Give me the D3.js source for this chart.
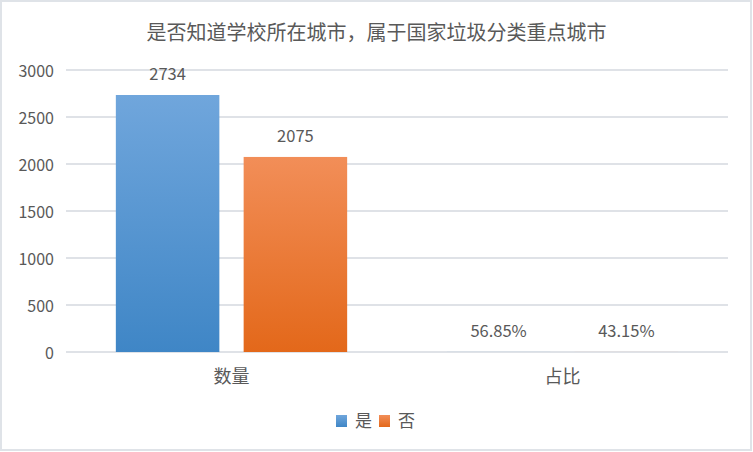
<!DOCTYPE html>
<html>
<head>
<meta charset="utf-8">
<script src="https://cdn.jsdelivr.net/npm/d3@7"></script>
<style>
  html, body { margin: 0; padding: 0; background: #fff; }
  svg text { font-family: "Noto Sans CJK SC", "Noto Sans", sans-serif; fill: #595959; }
</style>
</head>
<body>
<svg id="chart" width="753" height="452"></svg>
<script>
"use strict";

const title = "是否知道学校所在城市，属于国家垃圾分类重点城市";
const categories = ["数量", "占比"];
const series = ["是", "否"];
const yesValues = [2734, 0.5685];
const noValues = [2075, 0.4315];
const labelsYes = ["2734", "56.85%"];
const labelsNo = ["2075", "43.15%"];
const yTicks = [0, 500, 1000, 1500, 2000, 2500, 3000];

const W = 753, H = 452;
const svg = d3.select("#chart");

// outer border, like the excel chart frame
svg.append("rect")
    .attr("x", 1).attr("y", 1)
    .attr("width", W - 3).attr("height", H - 3)
    .attr("fill", "#fff")
    .attr("stroke", "#dfe3e8")
    .attr("stroke-width", 2);

const defs = svg.append("defs");
const makeGradient = function(id, top, bottom){
    const g = defs.append("linearGradient")
        .attr("id", id)
        .attr("x1", "0%").attr("y1", "0%")
        .attr("x2", "0%").attr("y2", "100%");
    g.append("stop").attr("offset", "0%").attr("stop-color", top);
    g.append("stop").attr("offset", "100%").attr("stop-color", bottom);
};
makeGradient("grad-yes", "#70a6dc", "#3f86c6");
makeGradient("grad-no", "#f28e58", "#e3681a");
const fills = {"是": "url(#grad-yes)", "否": "url(#grad-no)"};

const plot = {left: 66, right: 728, top: 70, bottom: 352};

const x0 = d3.scaleBand()
    .domain(categories)
    .range([plot.left, plot.right])
    .padding(0);

const x1 = d3.scaleBand()
    .domain(series)
    .range([0, x0.bandwidth()])
    .paddingInner(0.19)
    .paddingOuter(0.39);

const y = d3.scaleLinear()
    .domain([0, 3000])
    .range([plot.bottom, plot.top]);

// gridlines
svg.append("g")
    .selectAll("line")
    .data(yTicks)
    .join("line")
    .attr("x1", plot.left)
    .attr("x2", plot.right)
    .attr("y1", d => y(d))
    .attr("y2", d => y(d))
    .attr("stroke", "#dfe2e7")
    .attr("stroke-width", 2);

// y tick labels
svg.append("g")
    .selectAll("text")
    .data(yTicks)
    .join("text")
    .attr("x", 54)
    .attr("y", d => y(d) + 1)
    .attr("dy", "0.35em")
    .attr("text-anchor", "end")
    .style("font-size", "16px")
    .text(d => d);

const rows = categories.map((c, i) => ({
    cat: c,
    items: [
        {s: "是", v: yesValues[i], label: labelsYes[i]},
        {s: "否", v: noValues[i], label: labelsNo[i]}
    ]
}));

const groups = svg.append("g")
    .selectAll("g")
    .data(rows)
    .join("g")
    .attr("transform", d => "translate(" + x0(d.cat) + ",0)");

groups.selectAll("rect")
    .data(d => d.items)
    .join("rect")
    .attr("x", d => x1(d.s))
    .attr("y", d => y(d.v))
    .attr("width", x1.bandwidth())
    .attr("height", d => plot.bottom - y(d.v))
    .attr("fill", d => fills[d.s]);

groups.selectAll("text.val")
    .data(d => d.items)
    .join("text")
    .attr("class", "val")
    .attr("x", d => x1(d.s) + x1.bandwidth() / 2)
    .attr("y", d => y(d.v) - 21)
    .attr("dy", "0.35em")
    .attr("text-anchor", "middle")
    .style("font-size", "16.5px")
    .text(d => d.label);

// category labels
svg.append("g")
    .selectAll("text")
    .data(categories)
    .join("text")
    .attr("x", d => x0(d) + x0.bandwidth() / 2)
    .attr("y", 377)
    .attr("dy", "0.35em")
    .attr("text-anchor", "middle")
    .style("font-size", "18px")
    .text(d => d);

// title
svg.append("text")
    .attr("x", W / 2)
    .attr("y", 33)
    .attr("dy", "0.35em")
    .attr("text-anchor", "middle")
    .style("font-size", "20px")
    .text(title);

// legend
const legend = svg.append("g").attr("transform", "translate(336,415)");
const legendX = d3.scaleOrdinal().domain(series).range([0, 43]);
const li = legend.selectAll("g")
    .data(series)
    .join("g")
    .attr("transform", d => "translate(" + legendX(d) + ",0)");
li.append("rect")
    .attr("width", 11)
    .attr("height", 12)
    .attr("fill", d => fills[d]);
li.append("text")
    .attr("x", 19)
    .attr("y", 6)
    .attr("dy", "0.35em")
    .style("font-size", "17px")
    .text(d => d);
</script>
</body>
</html>
